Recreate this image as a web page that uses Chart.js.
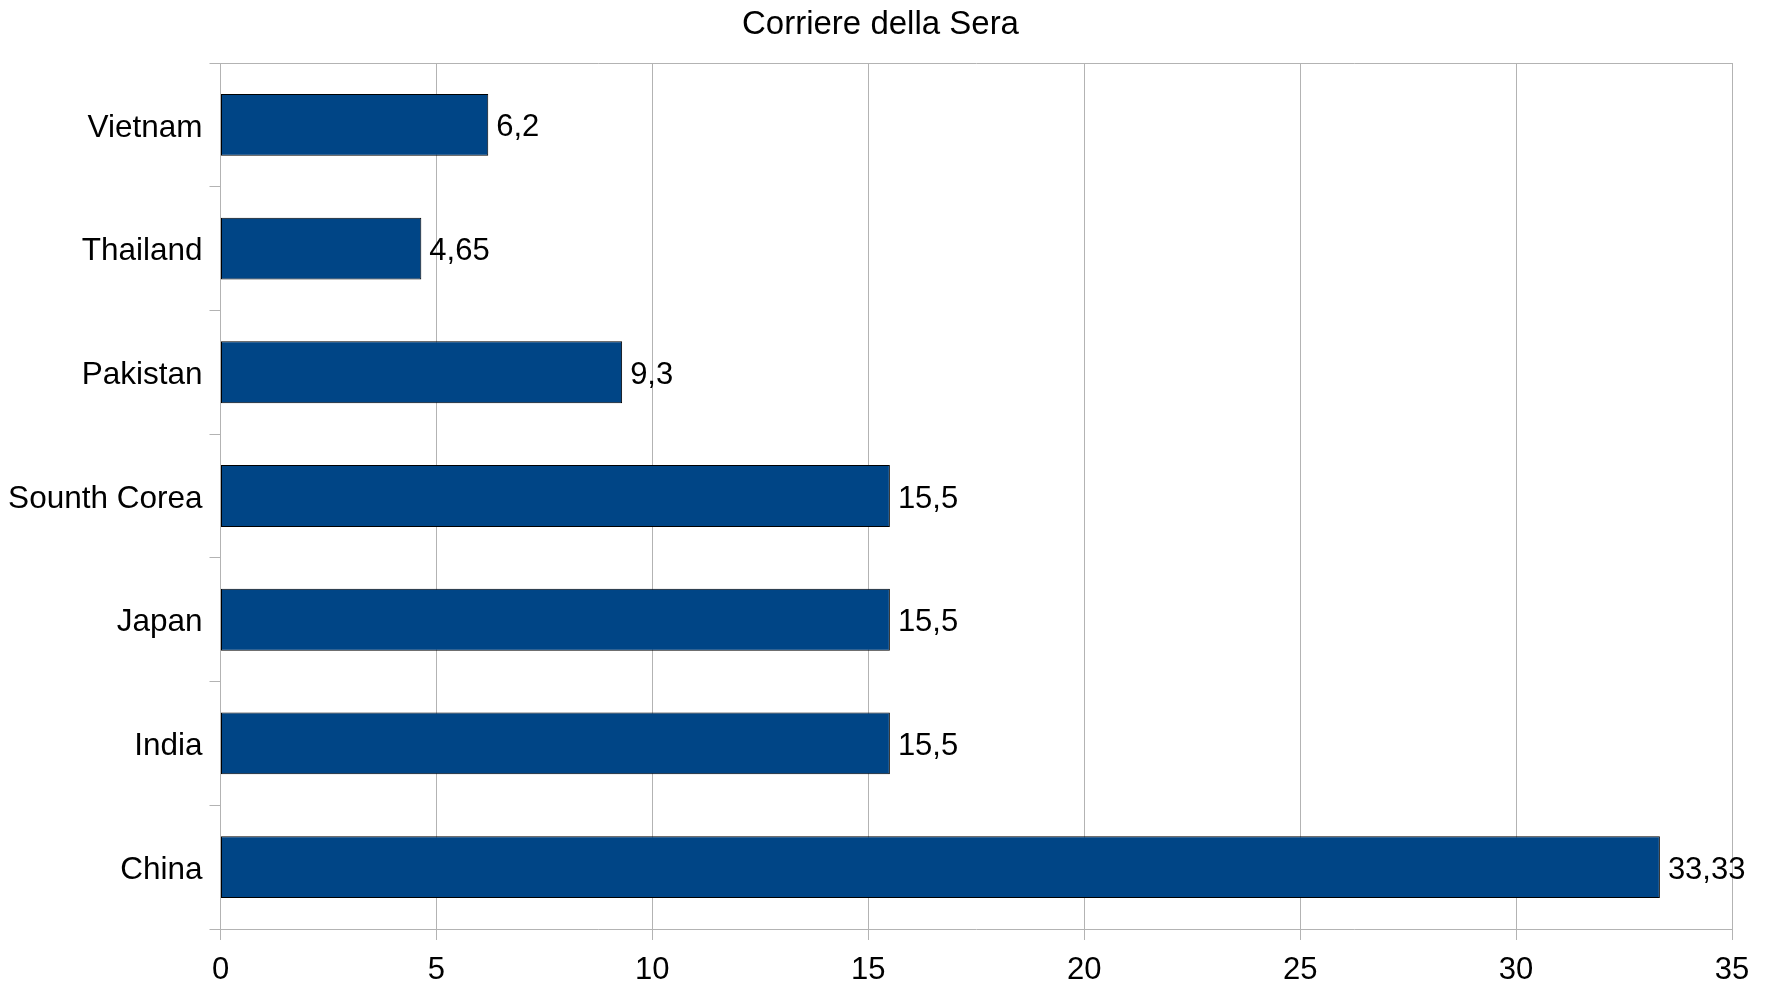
<!DOCTYPE html>
<html>
<head>
<meta charset="utf-8">
<title>Corriere della Sera</title>
<script src="https://cdn.jsdelivr.net/npm/chart.js@4/dist/chart.umd.min.js"></script>
<style>
  html, body { margin: 0; padding: 0; background: #fff; }
  canvas { display: block; }
</style>
</head>
<body>
<canvas id="chart" width="1773" height="984"></canvas>
<script>
// ── Data ────────────────────────────────────────────────────
const countries = ["Vietnam", "Thailand", "Pakistan", "Sounth Corea", "Japan", "India", "China"];
const values = [6.2, 4.65, 9.3, 15.5, 15.5, 15.5, 33.33];
const xTicks = [0, 5, 10, 15, 20, 25, 30, 35];

const FONT = "'Liberation Sans', Arial, sans-serif";
const GRID = "#b3b3b3";

// value labels next to each bar, decimal comma like the original
const valueLabels = {
  id: "valueLabels",
  afterDatasetsDraw(chart) {
    const ctx = chart.ctx;
    const meta = chart.getDatasetMeta(0);
    ctx.save();
    ctx.font = "31px " + FONT;
    ctx.fillStyle = "#000";
    ctx.textAlign = "left";
    ctx.textBaseline = "middle";
    meta.data.forEach((bar, i) => {
      const txt = String(values[i]).replace(".", ",");
      ctx.fillText(txt, bar.x + 8, bar.y + 3);
    });
    ctx.restore();
  }
};

new Chart(document.getElementById("chart"), {
  type: "bar",
  data: {
    labels: countries,
    datasets: [{
      data: values,
      backgroundColor: "#004586",
      borderColor: "#000",
      borderWidth: 1,
      borderSkipped: false,
      barPercentage: 0.5,
      categoryPercentage: 1.0
    }]
  },
  options: {
    indexAxis: "y",
    responsive: false,
    animation: false,
    layout: { padding: { left: 0, right: 12, top: 0, bottom: 0 } },
    plugins: {
      legend: { display: false },
      tooltip: { enabled: false },
      title: {
        display: true,
        text: "Corriere della Sera",
        color: "#000",
        font: { family: FONT, size: 33, weight: "normal" },
        padding: { top: 5, bottom: 18.4 }
      }
    },
    scales: {
      x: {
        position: "bottom",
        min: 0,
        max: 35,
        afterBuildTicks: (s) => { s.ticks = xTicks.map(v => ({ value: v })); },
        afterFit: (s) => { s.height = 55; },
        grid: { color: GRID, tickLength: 11 },
        border: { color: GRID },
        ticks: {
          color: "#000",
          padding: 12,
          font: { family: FONT, size: 31 }
        }
      },
      x2: {
        position: "top",
        axis: "x",
        min: 0,
        max: 35,
        afterFit: (s) => { s.height = 0; },
        grid: { display: false },
        border: { color: GRID },
        ticks: { display: false }
      },
      y: {
        afterFit: (s) => { s.width = 220.5; },
        grid: { color: GRID, drawOnChartArea: false, tickLength: 11 },
        border: { color: GRID },
        ticks: {
          color: "#000",
          padding: 7,
          labelOffset: 3,
          font: { family: FONT, size: 31.5 }
        }
      },
      // empty right-hand gutter so the title stays centred like the original
      yGutter: {
        type: "linear",
        position: "right",
        axis: "y",
        afterFit: (s) => { s.width = 29; },
        grid: { display: false },
        border: { display: false },
        ticks: { display: false }
      }
    }
  },
  plugins: [valueLabels]
});
</script>
</body>
</html>
